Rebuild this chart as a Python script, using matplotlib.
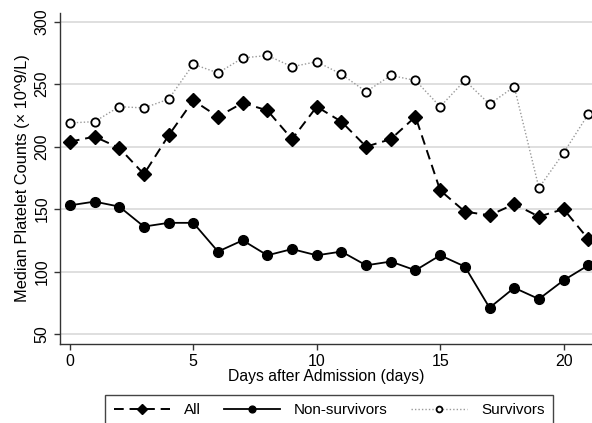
import matplotlib
matplotlib.use("Agg")
import matplotlib.pyplot as plt

plt.rcParams['font.family'] = ['Liberation Sans', 'DejaVu Sans']

days = list(range(22))
all_vals = [204, 208, 199, 178, 209, 237, 224, 235, 229, 206, 232, 220,
            200, 206, 224, 165, 148, 145, 154, 144, 150, 126]
non_surv = [153, 156, 152, 136, 139, 139, 116, 125, 113, 118, 113, 116,
            105, 108, 101, 113, 104, 71, 87, 78, 93, 105]
surv = [219, 220, 232, 231, 238, 266, 259, 271, 273, 264, 268, 258,
        244, 257, 253, 232, 253, 234, 248, 167, 195, 226]
yticks = [50, 100, 150, 200, 250, 300]
xticks = [0, 5, 10, 15, 20]

fig = plt.figure(figsize=(5.92, 4.23), dpi=100)
ax = fig.add_axes([60/592, (423-344)/423, (592-60)/592, (344-13)/423])

for y in yticks:
    ax.axhline(y, color='#d9d9d9', lw=1.2, zorder=0)

ax.plot(days, surv, linestyle=(0, (1, 1.5)), color='#9a9a9a', lw=1.0,
        marker='o', markersize=6, markerfacecolor='white',
        markeredgecolor='black', markeredgewidth=1.3, label='Survivors', zorder=3)
ax.plot(days, all_vals, linestyle=(0, (5, 3)), color='black', lw=1.4,
        marker='D', markersize=6.8, markerfacecolor='black',
        markeredgecolor='black', label='All', zorder=4)
ax.plot(days, non_surv, linestyle='-', color='black', lw=1.3,
        marker='o', markersize=7, markerfacecolor='black',
        markeredgecolor='black', label='Non-survivors', zorder=4)

ax.set_xlim(-0.4, 21.15)
ax.set_ylim(42, 307)
ax.set_xticks(xticks)
ax.set_yticks(yticks)
ax.set_yticklabels([str(v) for v in yticks], rotation=90, va='center')
ax.tick_params(axis='both', labelsize=11.5, color='#333333', length=4, width=1)
ax.spines['top'].set_visible(False)
ax.spines['right'].set_visible(False)
for s in ['left', 'bottom']:
    ax.spines[s].set_color('#333333')
    ax.spines[s].set_linewidth(1.0)

ax.set_xlabel('Days after Admission (days)', fontsize=11.3, labelpad=0)
ax.set_ylabel('Median Platelet Counts (× 10^9/L)', fontsize=11.8, labelpad=3)

handles, labels = ax.get_legend_handles_labels()
order = [1, 2, 0]
leg = fig.legend([handles[i] for i in order], [labels[i] for i in order],
                 loc='center', bbox_to_anchor=(329/592, (423-410)/423),
                 ncol=3, fancybox=False, edgecolor='#444444', framealpha=1,
                 fontsize=11, handlelength=3.7, columnspacing=1.5,
                 handletextpad=0.9, borderpad=0.55, numpoints=1,
                 markerscale=0.7)
leg.get_frame().set_linewidth(1.0)

fig.savefig('out.png', dpi=100)
